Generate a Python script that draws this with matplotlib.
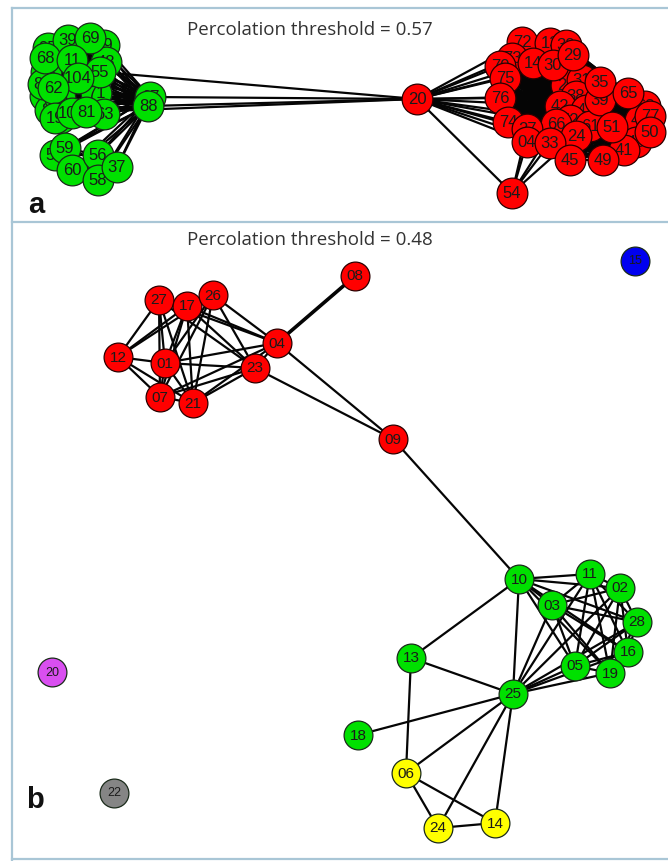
import matplotlib
matplotlib.use("Agg")
import matplotlib.pyplot as plt
from matplotlib.collections import LineCollection

# ---------------- data ----------------
title_a = "Percolation threshold = 0.57"
title_b = "Percolation threshold = 0.48"

# Panel a: node labels, positions (layout coords), community
a_labels = ["95", "23", "44", "86", "39", "99", "48", "05", "71", "26", "63", "82",
            "69", "68", "11", "55", "104", "62", "19", "108", "81",
            "57", "59", "60", "56", "58", "37", "67", "88",
            "22", "31", "38", "42", "47", "52", "61", "66", "24", "63b", "46", "43", "41", "77", "39b",
            "72", "13", "32", "73", "70", "14", "30", "29", "75", "76", "74", "27", "04", "33",
            "45", "49", "35", "65", "51", "50", "54", "20"]
a_x = [48, 46, 45, 50, 68, 104, 106, 60, 96, 60, 104, 43,
       90, 45, 72, 100, 78, 53, 55, 72, 86,
       55, 65, 72, 98, 98, 117, 150, 148,
       566, 582, 576, 560, 586, 570, 590, 556, 576, 645, 640, 636, 624, 650, 600,
       522, 550, 566, 512, 500, 533, 553, 573, 505, 500, 508, 527, 527, 550,
       570, 603, 600, 628, 612, 650, 512, 417]
a_y = [48, 72, 96, 110, 40, 45, 62, 98, 93, 118, 114, 84,
       38, 58, 60, 72, 78, 88, 118, 113, 112,
       155, 148, 170, 155, 180, 167, 97, 106,
       85, 80, 96, 106, 110, 120, 126, 124, 136, 106, 120, 142, 150, 116, 100,
       42, 43, 45, 58, 66, 63, 65, 55, 78, 98, 122, 129, 142, 143,
       160, 160, 82, 93, 127, 132, 193, 99]
a_group = ["g"] * 29 + ["r"] * 37

# Panel a: dense groups (fully linked) and extra links
a_dense_groups = [
    ["95", "23", "44", "86", "39", "99", "48", "05", "71", "26", "63", "82", "69", "68",
     "11", "55", "104", "62", "19", "108", "81", "67", "88"],
    ["57", "59", "60", "56", "58", "37", "67", "88"],
    ["22", "31", "38", "42", "47", "52", "61", "66", "24", "63b", "46", "43", "41", "77",
     "39b", "72", "13", "32", "73", "70", "14", "30", "29", "75", "76", "74", "27", "04",
     "33", "45", "49", "35", "65", "51", "50"],
]
a_links = [("67", "20"), ("88", "20"), ("55", "20"), ("81", "20"),
           ("20", "73"), ("20", "70"), ("20", "75"), ("20", "76"), ("20", "74"), ("20", "27"),
           ("20", "04"), ("20", "14"), ("20", "30"), ("20", "42"), ("20", "66"), ("20", "33"),
           ("20", "52"), ("20", "38"), ("20", "72"), ("20", "54"),
           ("54", "04"), ("54", "33"), ("54", "27"), ("54", "66"), ("54", "24")]

# Panel b
b_labels = ["08", "27", "17", "26", "04", "12", "01", "23", "07", "21", "09",
            "10", "11", "02", "03", "28", "16", "05", "19", "13", "25", "18",
            "06", "24", "14", "15", "20", "22"]
b_x = [355, 159, 187, 213, 277, 118, 165, 255, 160, 193, 393,
       519, 590, 620, 552, 637, 628, 575, 610, 411, 513, 358,
       406, 438, 495, 635, 52, 114]
b_y = [276, 300, 306, 295, 343, 357, 363, 368, 397, 403, 439,
       579, 574, 588, 605, 622, 652, 666, 673, 658, 694, 735,
       773, 828, 823, 261, 672, 793]
b_group = ["r"] * 11 + ["g"] * 11 + ["y"] * 3 + ["b", "m", "k"]

b_links = [
    ("12", "27"), ("12", "17"), ("12", "01"), ("12", "07"), ("12", "21"), ("12", "26"),
    ("27", "17"), ("27", "01"), ("27", "07"), ("27", "21"), ("27", "23"), ("27", "04"),
    ("17", "26"), ("17", "01"), ("17", "07"), ("17", "21"), ("17", "23"), ("17", "04"),
    ("26", "01"), ("26", "07"), ("26", "21"), ("26", "23"), ("26", "04"),
    ("01", "07"), ("01", "21"), ("01", "23"), ("01", "04"),
    ("07", "21"), ("07", "23"), ("07", "04"),
    ("21", "23"), ("21", "04"),
    ("23", "04"), ("23", "09"), ("04", "08"), ("04", "09"), ("09", "10"),
    ("10", "11"), ("10", "02"), ("10", "03"), ("10", "28"), ("10", "16"), ("10", "05"),
    ("10", "19"), ("10", "25"), ("10", "13"),
    ("11", "02"), ("11", "03"), ("11", "28"), ("11", "16"), ("11", "05"), ("11", "19"), ("11", "25"),
    ("02", "03"), ("02", "28"), ("02", "16"), ("02", "05"), ("02", "19"), ("02", "25"),
    ("03", "28"), ("03", "16"), ("03", "05"), ("03", "19"), ("03", "25"),
    ("28", "16"), ("28", "05"), ("28", "19"), ("28", "25"),
    ("16", "05"), ("16", "19"), ("16", "25"),
    ("05", "19"), ("05", "25"), ("19", "25"),
    ("13", "25"), ("13", "06"),
    ("25", "18"), ("25", "06"), ("25", "24"), ("25", "14"),
    ("06", "24"), ("06", "14"), ("24", "14"),
]

# ---------------- style ----------------
colors = {"r": "#ff0000", "g": "#00e000", "y": "#ffff00", "b": "#0000f0",
          "m": "#d94ff0", "k": "#858585"}
border_c = "#a9c6d6"

fig = plt.figure(figsize=(6.68, 8.61), dpi=100)
ax = fig.add_axes([0, 0, 1, 1])
ax.set_xlim(0, 668)
ax.set_ylim(861, 0)
ax.axis("off")

# panel frames
ax.plot([12, 12], [8, 860], color=border_c, lw=1.6, zorder=0)
ax.plot([12, 668], [8, 8], color=border_c, lw=1.6, zorder=0)
ax.plot([12, 668], [222, 222], color=border_c, lw=1.6, zorder=0)
ax.plot([12, 668], [859, 859], color=border_c, lw=1.6, zorder=0)


def draw_net(labels, xs, ys, groups, links, size, fs, small=()):
    pos = {l: (x, y) for l, x, y in zip(labels, xs, ys)}
    segs = [[pos[a], pos[b]] for a, b in links]
    ax.add_collection(LineCollection(segs, colors="#050505", linewidths=1.6, zorder=1))
    z = 2
    for l, x, y, g in zip(labels, xs, ys, groups):
        f = fs - 2 if l in small else fs
        ax.scatter([x], [y], s=size, c=colors[g], edgecolors="#2a0000" if g == "r" else "#1a2a1a",
                   linewidths=0.9, zorder=z)
        txt = l[:-1] if l.endswith("b") else l
        ax.text(x, y + 0.5, txt, ha="center", va="center", fontsize=f, color="#1a1a1a",
                family="Liberation Sans", zorder=z + 0.5)
        z += 1
    return pos


# panel a
a_all_links = list(a_links)
for grp in a_dense_groups:
    for i in range(len(grp)):
        for j in range(i + 1, len(grp)):
            a_all_links.append((grp[i], grp[j]))
draw_net(a_labels, a_x, a_y, a_group, a_all_links, 490, 12)

# panel b
posb = draw_net(b_labels, b_x, b_y, b_group, b_links, 430, 11, small=("15", "20", "22"))
# thicker double link 04-08
ax.plot([posb["04"][0], posb["08"][0]], [posb["04"][1], posb["08"][1]],
        color="#050505", lw=2.6, zorder=1)

# titles and panel letters
ax.text(310, 30, title_a, ha="center", va="center", fontsize=13.5, family="Open Sans", color="#333333")
ax.text(310, 240, title_b, ha="center", va="center", fontsize=13.5, family="Open Sans", color="#333333")
ax.text(28, 205, "a", ha="left", va="center", fontsize=21, fontweight="bold",
        family="Liberation Sans", color="#111111")
ax.text(26, 800, "b", ha="left", va="center", fontsize=21, fontweight="bold",
        family="Liberation Sans", color="#111111")

fig.savefig("out.png", dpi=100, facecolor="white")
